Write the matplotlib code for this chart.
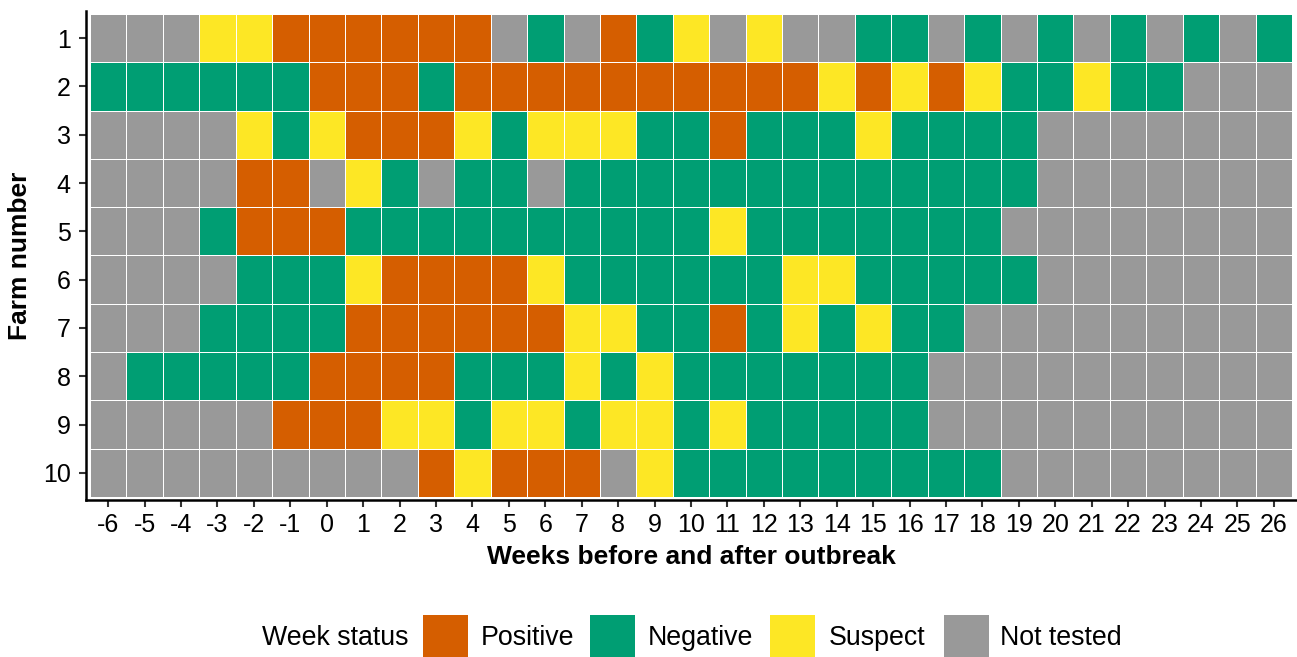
import numpy as np
import matplotlib
matplotlib.use("Agg")
import matplotlib.pyplot as plt
from matplotlib.colors import ListedColormap
from matplotlib.patches import Rectangle

plt.rcParams['font.family'] = ['Liberation Sans', 'DejaVu Sans']

weeks = list(range(-6, 27))
farms = list(range(1, 11))

# P = Positive, N = Negative, S = Suspect, X = Not tested  (one char per week, -6..26)
farm_status = [
    "XXXSSPPPPPPXNXPNSXSXXNNXNXNXNXNXN",
    "NNNNNNPPPNPPPPPPPPPPSPSPSNNSNNXXX",
    "XXXXSNSPPPSNSSSNNPNNNSNNNNXXXXXXX",
    "XXXXPPXSNXNNXNNNNNNNNNNNNNXXXXXXX",
    "XXXNPPPNNNNNNNNNNSNNNNNNNXXXXXXXX",
    "XXXXNNNSPPPPSNNNNNNSSNNNNNXXXXXXX",
    "XXXNNNNPPPPPPSSNNPNSNSNNXXXXXXXXX",
    "XNNNNNPPPPNNNSNSNNNNNNNXXXXXXXXXX",
    "XXXXXPPPSSNSSNSSNSNNNNNXXXXXXXXXX",
    "XXXXXXXXXPSPPPXSNNNNNNNNNXXXXXXXX",
]

status_names = ["Positive", "Negative", "Suspect", "Not tested"]
status_codes = ["P", "N", "S", "X"]
colores = ["#D55E00", "#009E73", "#FDE725", "#999999"]

grid = np.array([[status_codes.index(c) for c in fila] for fila in farm_status])

fig = plt.figure(figsize=(12.97, 6.57), dpi=100)
ax = fig.add_axes([86 / 1297, 1 - 500 / 657, 1210 / 1297, 489 / 657])

x_edges = np.arange(weeks[0] - 0.5, weeks[-1] + 1.5)
y_edges = np.arange(farms[0] - 0.5, farms[-1] + 1.5)
ax.pcolormesh(x_edges, y_edges, grid, cmap=ListedColormap(colores), vmin=-0.5, vmax=3.5,
              edgecolors="white", linewidth=0.7)

ax.set_xlim(weeks[0] - 0.61, weeks[-1] + 0.61)
ax.set_ylim(farms[-1] + 0.56, farms[0] - 0.56)

ax.set_xticks(weeks)
ax.set_xticklabels([str(w) for w in weeks])
ax.set_yticks(farms)
ax.set_yticklabels([str(f) for f in farms])
ax.tick_params(labelsize=18, length=5, width=1.5, colors="#333333", labelcolor="black", pad=4)
ax.tick_params(axis="y", pad=6)

for lado in ["top", "right"]:
    ax.spines[lado].set_visible(False)
for lado in ["left", "bottom"]:
    ax.spines[lado].set_linewidth(1.8)
    ax.spines[lado].set_color("black")

ax.set_xlabel("Weeks before and after outbreak", fontsize=19, weight="bold", labelpad=6)
ax.set_ylabel("Farm number", fontsize=19, weight="bold", labelpad=8)

# legend at the bottom, drawn by hand
fig.text(262 / 1297, 1 - 638 / 657, "Week status", fontsize=19.3, va="center", ha="left")
caja_x = [423, 590, 770, 944]
texto_x = [481, 648, 829, 1000]
for nombre, col, cx, tx in zip(status_names, colores, caja_x, texto_x):
    fig.add_artist(Rectangle((cx / 1297, 1 - 660 / 657), 45 / 1297, 45 / 657,
                             transform=fig.transFigure, facecolor=col,
                             edgecolor="none", clip_on=False))
    fig.text(tx / 1297, 1 - 638 / 657, nombre, fontsize=19.3, va="center", ha="left")

fig.savefig("out.png", dpi=100)
